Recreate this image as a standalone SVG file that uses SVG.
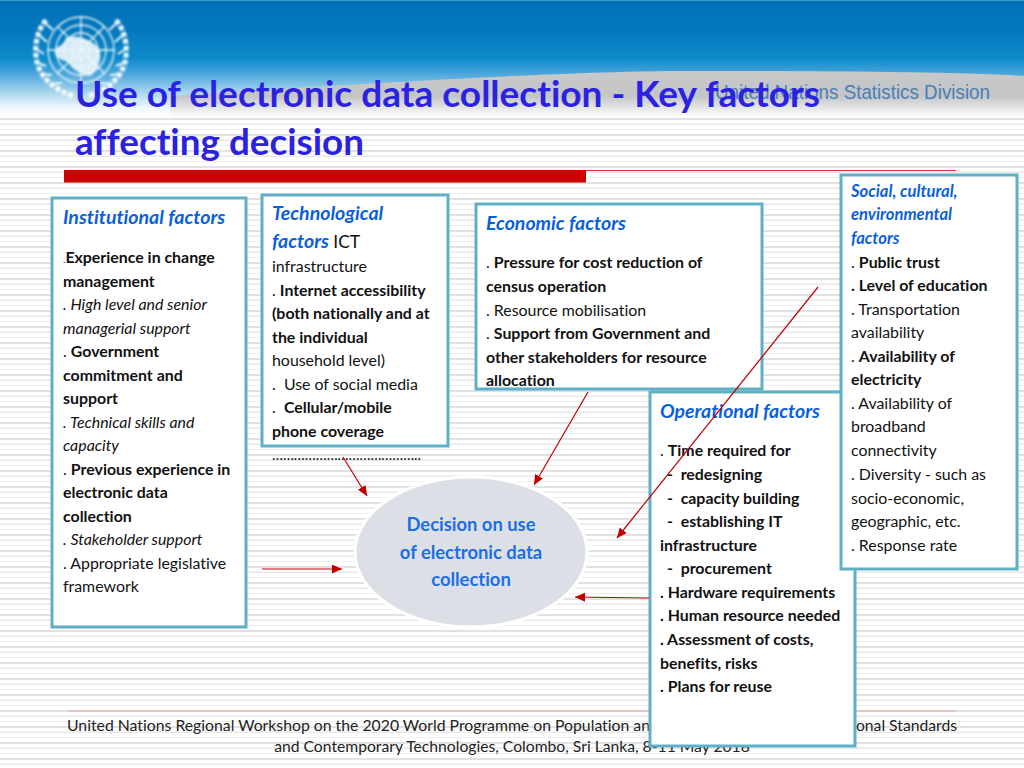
<svg xmlns="http://www.w3.org/2000/svg" width="1024" height="768" viewBox="0 0 1024 768">
<style>
text{font-family:"Lato","Carlito","Open Sans",sans-serif;fill:#111;font-size:15.9px;white-space:pre;font-variant-ligatures:none}
.b{font-weight:700}.i{font-style:italic}.r{font-weight:400;font-style:normal}
.h{font-weight:700;font-style:italic;fill:#0b5fdc;font-size:19.5px}
.hs{font-weight:700;font-style:italic;fill:#0b5fdc;font-size:16.6px}
.t{font-weight:700;fill:#2a22e0;font-size:36px}
.f{font-size:15.7px;fill:#222}
.e{font-weight:700;fill:#1a6fe6;font-size:18.4px;text-anchor:middle}
.box{fill:#fff;stroke:#5fafc6;stroke-width:3}
.c{stroke:#c00000;stroke-width:1.2;fill:none;marker-end:url(#ah)}
.w{stroke:#fff;fill:none}
</style>
<defs>
<pattern id="st" width="1024" height="16" patternUnits="userSpaceOnUse" y="118">
<rect width="1024" height="16" fill="#fff"/>
<rect y="0" width="1024" height="2" fill="#e2e2e2"/>
<rect y="5.500" width="1024" height="1.500" fill="#e8e8e8"/>
<rect y="11" width="1024" height="1" fill="#f0f0f0"/>
</pattern>
<linearGradient id="sky" x1="0" y1="0" x2="0" y2="1">
<stop offset="0" stop-color="#0070b6"/><stop offset=".25" stop-color="#0478be"/><stop offset=".5" stop-color="#0d8aca"/><stop offset=".62" stop-color="#45a3da"/><stop offset=".8" stop-color="#aed8ee"/><stop offset=".92" stop-color="#eef7fb"/><stop offset="1" stop-color="#fff"/>
</linearGradient>
<linearGradient id="sw" x1="0" y1="0" x2="0" y2="1">
<stop offset="0" stop-color="#c6c8ca"/><stop offset=".55" stop-color="#c4c5c7"/><stop offset="1" stop-color="#fff"/>
</linearGradient>
<filter id="soft" x="-10%" y="-10%" width="120%" height="120%"><feGaussianBlur stdDeviation="0.8"/></filter>
<marker id="ah" markerUnits="userSpaceOnUse" markerWidth="12" markerHeight="10" refX="10" refY="4.500" orient="auto"><path d="M0 0L10 4.500L0 9z" fill="#c00000"/></marker>
</defs>
<rect width="1024" height="768" fill="url(#st)"/>
<rect width="1024" height="117" fill="url(#sky)"/>
<path d="M170 96C300 88 560 70 700 71C820 71 960 72 1024 76V117H170z" fill="url(#sw)"/>
<rect y="0" width="1024" height="1" fill="#3aa0c8"/>
<g id="emblem" class="w" filter="url(#soft)" stroke-width="1.300" opacity=".92">
<circle cx="81" cy="50" r="33"/><circle cx="81" cy="50" r="25"/><circle cx="81" cy="50" r="17"/><circle cx="81" cy="50" r="9"/>
<path d="M81 16V84M47 50H115M57 26L105 74M105 26L57 74"/>
<path d="M66 38C74 34 92 38 100 50C102 62 96 72 90 76C82 74 74 72 68 62C58 60 52 54 56 48C60 46 64 44 66 38z" fill="#fff" fill-opacity=".9" stroke="none"/>
<path stroke-width="5" stroke-dasharray="5 2" d="M46 20C36 32 34 48 37 62C41 78 54 90 74 96M116 20C126 32 128 48 125 62C121 78 108 90 88 96"/>
<path stroke-width="2" d="M44 22L53 30M38 34L47 42M35 48L44 54M36 62L46 66M42 74L52 75M52 84L62 83M118 22L109 30M124 34L115 42M127 48L118 54M126 62L116 66M120 74L110 75M110 84L100 83"/>
</g>
<text id="unsd" x="715" y="99" style="font-family:'Liberation Sans',sans-serif;font-size:19.6px;fill:#4a7fb4" textLength="275" lengthAdjust="spacingAndGlyphs">United Nations Statistics Division</text>
<rect x="64" y="170" width="522" height="12.500" fill="#cc0000"/>
<rect x="586" y="170" width="370" height="1" fill="#d03030"/>
<rect x="68" y="710.500" width="888" height="1" fill="#e8a8a8"/>
<g id="title">
<text class="t" x="75" y="107" textLength="745" lengthAdjust="spacingAndGlyphs">Use of electronic data collection - Key factors</text>
<text class="t" x="75" y="155" textLength="289" lengthAdjust="spacingAndGlyphs">affecting decision</text>
</g>
<g id="footer">
<text class="f" x="67" y="731" textLength="583" lengthAdjust="spacingAndGlyphs">United Nations Regional Workshop on the 2020 World Programme on Population an</text>
<text class="f" x="957" y="731" text-anchor="end">onal Standards</text>
<text class="f" x="512" y="752" text-anchor="middle">and Contemporary Technologies, Colombo, Sri Lanka, 8-11 May 2018</text>
</g>
<g id="institutional">
<rect class="box" x="52" y="198" width="194" height="429"/>
<text class="h" x="63" y="224">Institutional factors</text>
<text x="63" y="263"><tspan font-size="10">.</tspan><tspan class="b">Experience in change</tspan></text>
<text class="b" x="63" y="287">management</text>
<text class="i" x="63" y="310">. High level and senior</text>
<text class="i" x="63" y="334">managerial support</text>
<text x="63" y="357">. <tspan class="b">Government</tspan></text>
<text class="b" x="63" y="381">commitment and</text>
<text class="b" x="63" y="404">support</text>
<text class="i" x="63" y="428">. Technical skills and</text>
<text class="i" x="63" y="451">capacity</text>
<text x="63" y="475">. <tspan class="b">Previous experience in</tspan></text>
<text class="b" x="63" y="498">electronic data</text>
<text class="b" x="63" y="522">collection</text>
<text class="i" x="63" y="545">. Stakeholder support</text>
<text x="63" y="569">. Appropriate legislative</text>
<text x="63" y="592">framework</text>
</g>
<g id="technological">
<rect class="box" x="262" y="195" width="186" height="251"/>
<text class="h" x="272" y="220">Technological</text>
<text x="272" y="248"><tspan class="h">factors </tspan><tspan font-size="17.5">ICT</tspan></text>
<text x="272" y="272">infrastructure</text>
<text x="272" y="296">. <tspan class="b">Internet accessibility</tspan></text>
<text class="b" x="272" y="319">(both nationally and at</text>
<text class="b" x="272" y="343">the individual</text>
<text x="272" y="366">household level)</text>
<text x="272" y="390">.  Use of social media</text>
<text x="272" y="413">.  <tspan class="b">Cellular/mobile</tspan></text>
<text class="b" x="272" y="437">phone coverage</text>
<text x="272" y="460" font-size="10" textLength="149" lengthAdjust="spacingAndGlyphs">…………………………………..</text>
</g>
<g id="economic">
<rect class="box" x="476" y="204" width="286" height="185"/>
<text class="h" x="486" y="230">Economic factors</text>
<text x="486" y="268">. <tspan class="b">Pressure for cost reduction of</tspan></text>
<text class="b" x="486" y="292">census operation</text>
<text x="486" y="316">. Resource mobilisation</text>
<text x="486" y="339">. <tspan class="b">Support from Government and</tspan></text>
<text class="b" x="486" y="363">other stakeholders for resource</text>
<text class="b" x="486" y="386">allocation</text>
</g>
<g id="operational">
<rect class="box" x="650" y="392" width="205" height="354"/>
<text class="h" x="660" y="418">Operational factors</text>
<text x="660" y="456">. <tspan class="b">Time required for</tspan></text>
<text class="b" x="667" y="480">-  redesigning</text>
<text class="b" x="667" y="504">-  capacity building</text>
<text class="b" x="667" y="527">-  establishing IT</text>
<text class="b" x="660" y="551">infrastructure</text>
<text class="b" x="667" y="574">-  procurement</text>
<text class="b" x="660" y="598">. Hardware requirements</text>
<text class="b" x="660" y="621">. Human resource needed</text>
<text class="b" x="660" y="645">. Assessment of costs,</text>
<text class="b" x="660" y="669">benefits, risks</text>
<text class="b" x="660" y="692">. Plans for reuse</text>
</g>
<g id="social">
<rect class="box" x="841" y="175" width="176" height="394"/>
<text class="hs" x="851" y="197">Social, cultural,</text>
<text class="hs" x="851" y="220">environmental</text>
<text class="hs" x="851" y="244">factors</text>
<text x="851" y="268">. <tspan class="b">Public trust</tspan></text>
<text class="b" x="851" y="291">. Level of education</text>
<text x="851" y="315">. Transportation</text>
<text x="851" y="338">availability</text>
<text x="851" y="362">. <tspan class="b">Availability of</tspan></text>
<text class="b" x="851" y="385">electricity</text>
<text x="851" y="409">. Availability of</text>
<text x="851" y="432">broadband</text>
<text x="851" y="456">connectivity</text>
<text x="851" y="480">. Diversity - such as</text>
<text x="851" y="504">socio-economic,</text>
<text x="851" y="527">geographic, etc.</text>
<text x="851" y="551">. Response rate</text>
</g>
<g id="decision">
<ellipse cx="471" cy="552" rx="116" ry="75" fill="#dce0e6" stroke="#fff" stroke-width="3"/>
<text class="e" x="471" y="531">Decision on use</text>
<text class="e" x="471" y="558.500">of electronic data</text>
<text class="e" x="471" y="586">collection</text>
</g>
<g id="connectors">
<path class="c" d="M343 457L367 496"/>
<path class="c" d="M588 392L534 485"/>
<path class="c" d="M818 287L617 538"/>
<path class="c" d="M262 569H342"/>
<path class="c" d="M649 598L575 597"/>
</g>
</svg>
